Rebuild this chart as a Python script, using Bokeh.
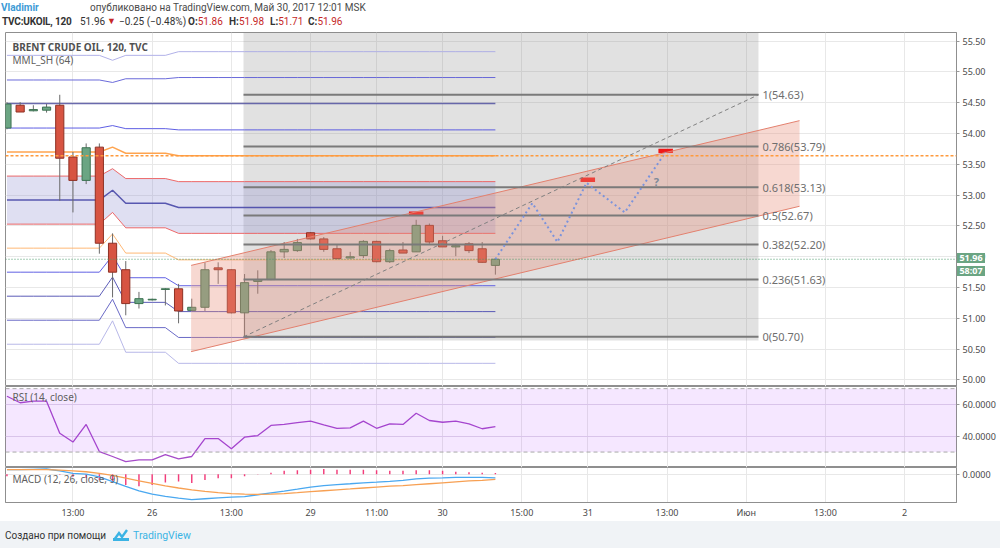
from bokeh.plotting import figure
from bokeh.models import (Range1d, FixedTicker, Grid, Label, Div, NumeralTickFormatter,
                          Span, BoxAnnotation)
from bokeh.layouts import column
from bokeh.embed import file_html
from bokeh.resources import INLINE
from bokeh.core.properties import value

# ---------------- data ----------------
bars = list(range(38))
opens  = [54.09, 54.46, 54.37, 54.38, 54.46, 53.62, 53.24, 53.78, 52.22, 51.79,
          51.24, 51.30, 51.47, 51.48, 51.13, 51.18, 51.82, 51.79, 51.09, 51.60,
          51.63, 52.08, 52.10, 52.39, 52.29, 52.13, 51.98, 52.02, 52.25, 51.92,
          52.11, 52.08, 52.51, 52.26, 52.16, 52.21, 52.13, 51.86]
highs  = [54.51, 54.51, 54.46, 54.48, 54.63, 53.70, 53.84, 53.84, 52.38, 51.93,
          51.43, 51.32, 51.49, 51.56, 51.32, 51.91, 51.91, 51.80, 51.72, 51.78,
          52.11, 52.24, 52.29, 52.40, 52.32, 52.19, 52.08, 52.27, 52.26, 52.13,
          52.24, 52.60, 52.54, 52.34, 52.21, 52.24, 52.24, 51.98]
lows   = [54.07, 54.35, 54.36, 54.34, 52.91, 52.72, 53.18, 52.05, 51.34, 51.05,
          51.16, 51.29, 51.21, 50.92, 51.12, 51.12, 51.56, 51.08, 50.70, 51.40,
          51.62, 51.98, 52.08, 52.28, 52.08, 51.96, 51.97, 51.98, 51.91, 51.90,
          52.06, 52.08, 52.21, 52.16, 52.01, 52.06, 51.90, 51.71]
closes = [54.48, 54.35, 54.39, 54.43, 53.60, 53.24, 53.77, 52.22, 51.75, 51.24,
          51.32, 51.31, 51.48, 51.12, 51.18, 51.79, 51.79, 51.09, 51.58, 51.63,
          52.08, 52.12, 52.23, 52.29, 52.12, 51.97, 52.00, 52.25, 51.92, 52.10,
          52.06, 52.51, 52.24, 52.16, 52.18, 52.10, 51.91, 51.96]

x_tick_pos = [5, 11, 17, 23, 28, 33, 39, 44, 50, 56, 62, 68]
x_tick_labels = ["13:00", "26", "13:00", "29", "11:00", "30", "15:00", "31",
                 "13:00", "Июн", "13:00", "2"]
price_ticks = [50.0, 50.5, 51.0, 51.5, 52.0, 52.5, 53.0, 53.5, 54.0, 54.5, 55.0, 55.5]
rsi_ticks = [40, 60]
rsi_band = [30, 70]
macd_ticks = [0]

# Murrey Math lines (MML_SH 64): level sets per bar segment
mml_segments = [(0, 7), (8, 8), (9, 12), (13, 37)]
mml_levels = [
    [55.27, 54.87, 54.49, 54.09, 53.70, 53.31, 52.92, 52.53, 52.14, 51.75, 51.36, 50.97, 50.58],
    [55.19, 54.83, 54.49, 54.13, 53.78, 53.43, 53.08, 52.72, 52.37, 52.02, 51.67, 51.31, 50.96],
    [55.27, 54.89, 54.49, 54.08, 53.68, 53.27, 52.87, 52.47, 52.06, 51.66, 51.26, 50.85, 50.45],
    [55.33, 54.91, 54.49, 54.06, 53.64, 53.22, 52.80, 52.38, 51.95, 51.53, 51.11, 50.69, 50.27],
]
mml_colors = ["#a8a8e6", "#5b5bd6", "#5a5aa4", "#4d4de0", "#ff9a3c", "#ec5a5a", "#4848a8",
              "#ec5a5a", "#ffb066", "#5050e0", "#4a4ab0", "#5a5ac0", "#b0b0e6"]
mml_widths = [1, 1, 1.5, 1, 1.5, 1, 1.5, 1, 1, 1, 1, 1, 1]
mml_current_level = 53.64

fib_ratios = ["1", "0.786", "0.618", "0.5", "0.382", "0.236", "0"]
fib_prices = [54.63, 53.79, 53.13, 52.67, 52.20, 51.63, 50.70]
fib_x = [17.92, 56.93]

shade_x = [17.92, 56.93]
shade_y = [50.64, 56.50]

channel_x = [13.95, 60.04]
channel_top = [51.86, 54.21]
channel_bottom = [50.46, 52.82]

proj_x = [37.0, 39.8, 41.7, 43.9, 46.8, 49.9]
proj_y = [51.96, 52.87, 52.24, 53.20, 52.72, 53.70]

marker_x = [31.0, 44.0, 49.9]
marker_y = [52.70, 53.25, 53.72]

rsi = [65.2, 61.1, 62.1, 62.1, 41.9, 36.3, 47.4, 30.3, 27.2, 24.0,
       25.1, 25.1, 28.4, 25.7, 27.2, 38.5, 38.5, 32.1, 39.4, 40.4,
       46.8, 47.4, 48.5, 49.5, 47.2, 45.0, 45.3, 49.5, 45.0, 47.8,
       47.4, 54.5, 49.9, 48.8, 49.5, 47.8, 44.7, 46.1]

macd = [0.071, 0.071, 0.076, 0.081, 0.052, 0.014, 0.0, -0.043, -0.114, -0.190,
        -0.257, -0.310, -0.343, -0.371, -0.395, -0.381, -0.367, -0.357, -0.348, -0.319,
        -0.290, -0.262, -0.233, -0.200, -0.176, -0.162, -0.148, -0.133, -0.124, -0.110,
        -0.095, -0.071, -0.062, -0.057, -0.048, -0.048, -0.048, -0.057]
signal = [0.071, 0.071, 0.071, 0.071, 0.062, 0.052, 0.038, 0.014, -0.019, -0.062,
          -0.105, -0.143, -0.181, -0.214, -0.243, -0.267, -0.286, -0.300, -0.310, -0.314,
          -0.310, -0.300, -0.286, -0.271, -0.257, -0.243, -0.229, -0.214, -0.200, -0.186,
          -0.176, -0.162, -0.148, -0.133, -0.119, -0.105, -0.095, -0.081]
hist = [-0.03, 0.0, 0.0, 0.0, -0.01, -0.04, -0.06, -0.09, -0.13, -0.167,
        -0.186, -0.167, -0.129, -0.114, -0.138, -0.09, -0.062, -0.062, -0.033, -0.005,
        0.024, 0.052, 0.062, 0.071, 0.081, 0.071, 0.071, 0.071, 0.062, 0.052,
        0.052, 0.062, 0.062, 0.052, 0.038, 0.029, 0.024, 0.019]

change_text = "\u22120.25 (\u22120.48%)"
countdown_text = "58:07"

# ---------------- style ----------------
FONT = "Noto Sans"
GRID = "#e8e8e8"
OUTLINE = "#8f8f8f"
AXIS_TXT = "#4a4a4a"
UP, DOWN = "#6ba583", "#d75442"
UP_LINE, DOWN_LINE = "#3c7252", "#8f3124"
WIDTH = 998
BORDER_R = 42
BORDER_L = 5

xr = Range1d(-0.11, 71.93)


def make_fig(h, yr, bottom_axis=False):
    p = figure(width=WIDTH, height=h, x_range=xr, y_range=yr,
               output_backend="svg", toolbar_location=None,
               x_axis_location="below" if bottom_axis else None,
               y_axis_location="right",
               min_border_left=BORDER_L, min_border_right=BORDER_R,
               min_border_top=0, min_border_bottom=16 if bottom_axis else 0)
    p.outline_line_color = OUTLINE
    p.background_fill_color = "white"
    p.border_fill_color = "white"
    p.xgrid.visible = False
    p.ygrid.visible = False
    p.add_layout(Grid(dimension=0, ticker=FixedTicker(ticks=x_tick_pos),
                      grid_line_color=GRID))
    ya = p.yaxis[0]
    ya.axis_line_color = OUTLINE
    ya.major_tick_line_color = "#9a9a9a"
    ya.major_tick_in = 0
    ya.major_tick_out = 3
    ya.minor_tick_line_color = None
    ya.major_label_standoff = 3
    ya.major_label_text_font = FONT
    ya.major_label_text_font_size = "9px"
    ya.major_label_text_color = AXIS_TXT
    if bottom_axis:
        xa = p.xaxis[0]
        xa.ticker = FixedTicker(ticks=x_tick_pos)
        xa.major_label_overrides = dict(zip(x_tick_pos, x_tick_labels))
        xa.axis_line_color = OUTLINE
        xa.major_tick_line_color = None
        xa.minor_tick_line_color = None
        xa.major_tick_out = 1
        xa.major_tick_in = 0
        xa.major_label_standoff = 2
        xa.major_label_text_font = FONT
        xa.major_label_text_font_size = "9px"
        xa.major_label_text_color = AXIS_TXT
    return p


# ---------------- price pane ----------------
pp = make_fig(354, Range1d(49.894, 55.641))
pp.add_layout(Grid(dimension=1, ticker=FixedTicker(ticks=price_ticks), grid_line_color=GRID))
pp.yaxis[0].ticker = FixedTicker(ticks=price_ticks)
pp.yaxis[0].formatter = NumeralTickFormatter(format="0.00")

# shaded date range box
pp.quad(left=[shade_x[0]], right=[shade_x[1]], bottom=[shade_y[0]], top=[shade_y[1]],
        fill_color="#808080", fill_alpha=0.24, line_color=None)

# MML series per bar
mml_series = [[None] * len(bars) for _ in range(len(mml_colors))]
for (b0, b1), levels in zip(mml_segments, mml_levels):
    for b in range(b0, b1 + 1):
        for k, lv in enumerate(levels):
            mml_series[k][b] = lv

pp.varea(x=bars, y1=mml_series[7], y2=mml_series[5], fill_color="#8c8cd0", fill_alpha=0.28)
for k in range(len(mml_colors)):
    pp.line(bars, mml_series[k], line_color=mml_colors[k], line_width=mml_widths[k], line_alpha=0.9)

pp.add_layout(Span(location=mml_current_level, dimension="width", line_color="#ff9a3c",
                   line_dash="3 2", line_width=1.5))
pp.add_layout(Span(location=closes[-1], dimension="width", line_color="#4a9a6a",
                   line_dash="1 2", line_width=1))

# candles
wick_col = "#6a6a6a"
pp.segment(x0=bars, y0=highs, x1=bars, y1=lows, line_color=wick_col, line_width=1)
body_fill = [UP if c >= o else DOWN for o, c in zip(opens, closes)]
body_line = [UP_LINE if c >= o else DOWN_LINE for o, c in zip(opens, closes)]
body_top = [max(o, c) for o, c in zip(opens, closes)]
body_bot = [min(o, c) for o, c in zip(opens, closes)]
pp.vbar(x=bars, top=body_top, bottom=body_bot, width=0.62,
        fill_color=body_fill, line_color=body_line, line_width=1)

# red target markers
pp.quad(left=[m - 0.55 for m in marker_x], right=[m + 0.55 for m in marker_x],
        bottom=[m - 0.035 for m in marker_y], top=[m + 0.035 for m in marker_y],
        fill_color="#f01818", line_color=None)

# rising channel
pp.patch(x=[channel_x[0], channel_x[1], channel_x[1], channel_x[0]],
         y=[channel_top[0], channel_top[1], channel_bottom[1], channel_bottom[0]],
         fill_color="#e8907c", fill_alpha=0.35, line_color=None)
pp.line(channel_x, channel_top, line_color="#e3806e", line_width=1)
pp.line(channel_x, channel_bottom, line_color="#e3806e", line_width=1)

# fibonacci retracement
pp.segment(x0=[fib_x[0]] * len(fib_prices), y0=fib_prices,
           x1=[fib_x[1]] * len(fib_prices), y1=fib_prices,
           line_color="#7a7a7a", line_width=2)
pp.line([fib_x[0], fib_x[1]], [fib_prices[-1], fib_prices[0]],
        line_color="#808080", line_dash="4 3", line_width=1)
pp.text(x=[fib_x[1] + 0.3] * len(fib_prices), y=fib_prices,
        text=[f"{r}({v:.2f})" for r, v in zip(fib_ratios, fib_prices)],
        text_font=value(FONT), text_font_size="11px", text_color="#6e6e6e",
        text_baseline="middle", text_align="left")

# projected path
pp.line(proj_x, proj_y, line_color="#7b93dc", line_dash="2 3", line_width=2)
pp.text(x=[49.2], y=[53.22], text=["?"], text_font=value(FONT), text_font_size="11px",
        text_color="#7d8a99", text_font_style="bold", text_baseline="middle", text_align="center")

pp.add_layout(Label(x=0.42, y=55.41, text="BRENT CRUDE OIL, 120, TVC", text_font=FONT,
                    text_font_size="10px", text_font_style="bold", text_color="#505050",
                    text_baseline="middle"))
pp.add_layout(Label(x=0.42, y=55.19, text="MML_SH (64)", text_font=FONT,
                    text_font_size="10px", text_color="#606060", text_baseline="middle"))

# ---------------- RSI pane ----------------
rp = make_fig(81, Range1d(20.25, 71.36))
rp.add_layout(BoxAnnotation(bottom=rsi_band[0], top=rsi_band[1], fill_color="#9915ff",
                            fill_alpha=0.1, line_color=None))
rp.add_layout(Grid(dimension=1, ticker=FixedTicker(ticks=rsi_ticks), grid_line_color="#e0d8e8"))
for lv in rsi_band:
    rp.add_layout(Span(location=lv, dimension="width", line_color="#a8a8a8",
                       line_dash="4 3", line_width=1))
rp.yaxis[0].ticker = FixedTicker(ticks=rsi_ticks)
rp.yaxis[0].formatter = NumeralTickFormatter(format="0.0000")
rp.line(bars, rsi, line_color="#a64bc9", line_width=1.3)
rp.add_layout(Label(x=0.42, y=65.0, text="RSI (14, close)", text_font=FONT,
                    text_font_size="10px", text_color="#606060", text_baseline="middle"))

# ---------------- MACD pane ----------------
mp = make_fig(54, Range1d(-0.439, 0.104), bottom_axis=True)
mp.add_layout(Grid(dimension=1, ticker=FixedTicker(ticks=macd_ticks), grid_line_color=GRID))
mp.yaxis[0].ticker = FixedTicker(ticks=macd_ticks)
mp.yaxis[0].formatter = NumeralTickFormatter(format="0.0000")
mp.vbar(x=bars, top=hist, bottom=0, width=0.11, fill_color="#f23c7a", line_color=None)
mp.line(bars, macd, line_color="#4aa8f0", line_width=1.3)
mp.line(bars, signal, line_color="#f7a053", line_width=1.3)
mp.add_layout(Label(x=0.42, y=-0.067, text="MACD (12, 26, close, 9)", text_font=FONT,
                    text_font_size="10px", text_color="#606060", text_baseline="middle"))

# ---------------- header / footer ----------------
red = "#c62828"


def span_at(left, html, extra=""):
    return f'<span style="position:absolute; left:{left}px; {extra}">{html}</span>'


header_html = (
    '<div style="position:relative; width:1000px; height:32px; font-family:Roboto,sans-serif;'
    ' font-size:10px; line-height:13px; white-space:nowrap;">'
    '<div style="position:absolute; top:1px; left:0; width:1000px; height:13px;">'
    + span_at(1, "Vladimir", "color:#3d9bd6; font-weight:bold;")
    + span_at(90, "опубликовано на TradingView.com, Май 30, 2017 12:01 MSK", "color:#4a4a4a;")
    + '</div>'
    '<div style="position:absolute; top:15px; left:0; width:1000px; height:14px; color:#333;">'
    + span_at(2, "TVC:UKOIL, 120", "font-weight:bold; letter-spacing:-0.2px;")
    + span_at(80, f"{closes[-1]:.2f}")
    + span_at(107, "&#9660;", f"color:{red}; font-size:9px;")
    + span_at(119, change_text)
    + span_at(188, f'<b>O:</b><span style="color:{red}">{opens[-1]:.2f}</span>')
    + span_at(229, f'<b>H:</b><span style="color:{red}">{highs[-1]:.2f}</span>')
    + span_at(270, f'<b>L:</b><span style="color:{red}">{lows[-1]:.2f}</span>')
    + span_at(308, f'<b>C:</b><span style="color:{red}">{closes[-1]:.2f}</span>')
    + '</div></div>'
)
header = Div(text=header_html, width=1000, height=32, margin=(0, 0, 0, 0))

box_style = ("position:absolute; left:957px; width:28px; height:10px; line-height:10px;"
             " background:#6ba583; color:white; font-weight:bold; font-size:9px;"
             " text-align:center; font-family:'Noto Sans',sans-serif;")
footer_html = (
    '<div style="position:relative; width:1000px; height:27px; background:#f0f3f6;'
    ' font-family:Roboto,sans-serif; font-size:10px; white-space:nowrap;">'
    f'<div style="{box_style} top:-268px;">{closes[-1]:.2f}</div>'
    f'<div style="{box_style} top:-255px;">{countdown_text}</div>'
    '<div style="position:absolute; left:5px; top:7px; color:#333;">Создано при помощи'
    '<svg width="16" height="12" viewBox="0 0 16 12" style="margin:0 4px 0 7px; vertical-align:-2px">'
    '<path d="M1 11 L6 4 L9 8 L14 1" stroke="#3bb3e4" stroke-width="2.4" fill="none"/>'
    '<rect x="0" y="9" width="16" height="3" fill="#3bb3e4"/></svg>'
    '<span style="color:#3bb3e4; font-size:10.5px;">TradingView</span></div></div>'
)
footer = Div(text=footer_html, width=1000, height=27, margin=(0, 0, 0, 0))

layout = column(header, pp, rp, mp, footer, spacing=0)

open("out.html", "w").write(file_html(layout, INLINE))
